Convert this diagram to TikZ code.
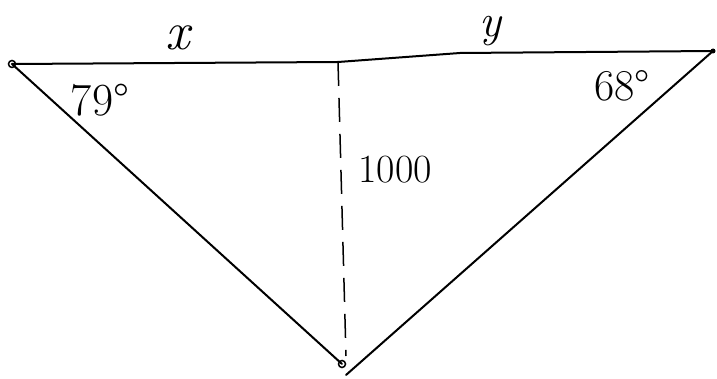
\documentclass[tikz,border=0pt]{standalone}
\begin{document}
\begin{tikzpicture}[x=1pt,y=-1pt,
  edge/.style={line width=2pt, line cap=round},
  hand/.style={inner sep=0pt, font=\fontsize{40}{40}\selectfont},
  letter/.style={inner sep=0pt, font=\fontsize{54}{54}\selectfont\itshape}]
\useasboundingbox (0,0) rectangle (717,379);
\coordinate (L) at (12,64);
\coordinate (R) at (713,51);
\coordinate (B) at (342,364);
\coordinate (T) at (338,62);
\coordinate (F) at (346,356);
\draw[edge] (L) -- (338,62) -- (460,53) -- (R);
\draw[edge] (L) -- (B);
\draw[edge] (R) -- (346,375);
\draw[line width=1.5pt, dash pattern=on 24pt off 12pt] (T) -- (F);
\draw[line width=1.5pt] (L) circle (3.5pt);
\draw[line width=1.5pt] (B) circle (3.5pt);
\fill (R) circle (2.5pt);
\node[letter] (lx) at (178,38) {x};
\node[letter, font=\fontsize{46}{46}\selectfont\itshape] (ly) at (490,31) {y};
\node[hand, font=\fontsize{46}{46}\selectfont] (la) at (100,100) {79°};
\node[hand, font=\fontsize{44}{44}\selectfont] (lb) at (622,86) {68°};
\node[hand] (lh) at (395,170) {1000};
\end{tikzpicture}
\end{document}
